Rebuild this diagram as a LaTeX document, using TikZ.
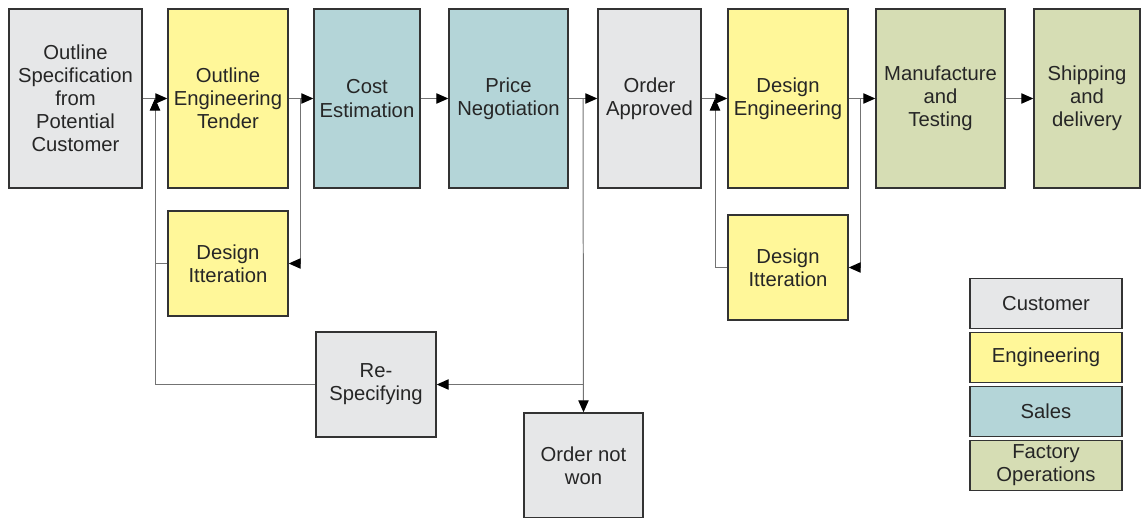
\documentclass[tikz,border=0pt]{standalone}
\usepackage{fontspec}
\setmainfont{Liberation Sans}
\usetikzlibrary{arrows.meta}

\begin{document}
\begin{tikzpicture}[x=0.025cm,y=-0.025cm,
  box/.style={draw=black!80,line width=1pt,inner sep=1pt,align=center,
    text=black!85,font=\fontsize{14.4}{16.4}\selectfont},
  tall/.style={box,minimum height=4.475cm},
  small/.style={box,minimum width=3cm,minimum height=2.625cm},
  key/.style={box,minimum width=3.8cm,minimum height=1.25cm},
  flow/.style={draw=black!55,line width=0.7pt,
    -{Triangle[length=3mm,width=2.6mm,color=black]}}]
\definecolor{custGray}{HTML}{E6E7E8}
\definecolor{engYellow}{HTML}{FFF799}
\definecolor{salesTeal}{HTML}{B4D5D8}
\definecolor{factGreen}{HTML}{D6DDB4}
\useasboundingbox (0,0) rectangle (1141,518);
\node[tall,fill=custGray,minimum width=3.325cm] (spec) at (75.5,98.5) {Outline\\Specification\\from\\Potential\\Customer};
\node[tall,fill=engYellow,minimum width=3cm] (oet) at (228,98.5) {Outline\\Engineering\\Tender};
\node[tall,fill=salesTeal,minimum width=2.65cm] (cost) at (367,98.5) {Cost\\Estimation};
\node[tall,fill=salesTeal,minimum width=2.975cm] (price) at (508.5,98.5) {Price\\Negotiation};
\node[tall,fill=custGray,minimum width=2.575cm] (approved) at (649.5,98.5) {Order\\Approved};
\node[tall,fill=engYellow,minimum width=3cm] (deseng) at (788,98.5) {Design\\Engineering};
\node[tall,fill=factGreen,minimum width=3.225cm] (manuf) at (940.5,98.5) {Manufacture\\and\\Testing};
\node[tall,fill=factGreen,minimum width=2.65cm] (ship) at (1087,98.5) {Shipping\\and\\delivery};
\node[small,fill=engYellow] (iterA) at (228,263.5) {Design\\Itteration};
\node[small,fill=engYellow] (iterB) at (788,267.5) {Design\\Itteration};
\node[small,fill=custGray] (respec) at (376,384.5) {Re-\\Specifying};
\node[small,fill=custGray,minimum width=2.975cm] (notwon) at (583.5,465.5) {Order not\\won};
\node[key,fill=custGray] (kCust) at (1046,303.5) {Customer};
\node[key,fill=engYellow] (kEng) at (1046,357.5) {Engineering};
\node[key,fill=salesTeal] (kSales) at (1046,411.5) {Sales};
\node[key,fill=factGreen] (kFact) at (1046,465.5) {Factory\\Operations};
\coordinate (splitA) at (300,98.5);
\coordinate (mergeA) at (155,98.5);
\coordinate (joinA) at (155,263.5);
\coordinate (splitB) at (583,98.5);
\coordinate (joinB) at (583,384.5);
\coordinate (splitC) at (860,98.5);
\coordinate (mergeC) at (715,98.5);
\foreach \a/\b in {spec/oet,oet/cost,cost/price,price/approved,approved/deseng,deseng/manuf,manuf/ship}
  \draw[flow] (\a) -- (\b);
\draw[flow] (splitA) |- (iterA.east);
\draw[flow] (iterA.west) -| (mergeA);
\draw[draw=black!55,line width=0.7pt] (respec.west) -| (joinA);
\draw[flow] (splitB) -- (notwon.north);
\draw[flow] (joinB) -- (respec.east);
\draw[flow] (splitC) |- (iterB.east);
\draw[flow] (iterB.west) -| (mergeC);
\end{tikzpicture}
\end{document}
